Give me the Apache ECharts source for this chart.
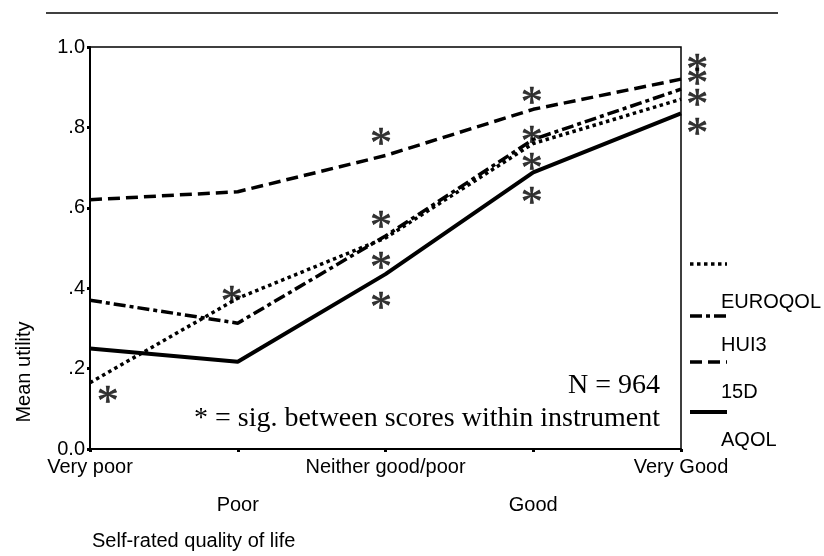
<!DOCTYPE html>
<html>
<head>
<meta charset="utf-8">
<script src="https://cdn.jsdelivr.net/npm/echarts@6/dist/echarts.min.js"></script>
<style>
html,body{margin:0;padding:0;background:#fff;}
#c{width:824px;height:556px;}
</style>
</head>
<body>
<div id="c"></div>
<script>
const categories = ['Very poor', 'Poor', 'Neither good/poor', 'Good', 'Very Good'];
const euroqol = [0.165, 0.375, 0.525, 0.76, 0.87];
const hui3 = [0.37, 0.313, 0.53, 0.77, 0.895];
const d15 = [0.62, 0.64, 0.73, 0.845, 0.92];
const aqol = [0.25, 0.217, 0.435, 0.688, 0.835];
const yTickLabels = ['0.0', '.2', '.4', '.6', '.8', '1.0'];
const sigX = [0.12, 0.96, 1.97, 1.97, 1.97, 1.97, 2.99, 2.99, 2.99, 2.99, 4.11, 4.11, 4.11, 4.11];
const sigY = [0.139, 0.387, 0.781, 0.574, 0.472, 0.371, 0.881, 0.785, 0.719, 0.632, 0.963, 0.930, 0.876, 0.806];
const legendNames = ['EUROQOL', 'HUI3', '15D', 'AQOL'];

const SANS = "'Liberation Sans', Arial, sans-serif";
const SERIF = "'Liberation Serif', 'Times New Roman', serif";

const toPts = arr => arr.map((v, i) => [i, v]);
const dashes = [[3.5, 3.5], [12, 4, 4, 4], [12, 6], 'solid'];
const widths = [3.5, 3.5, 3.5, 4];
const seriesArrays = [euroqol, hui3, d15, aqol];

const chart = echarts.init(document.getElementById('c'), null, {renderer: 'canvas'});

const lineSeries = seriesArrays.map((arr, k) => ({
  name: legendNames[k],
  type: 'line',
  data: toPts(arr),
  showSymbol: false,
  symbol: 'none',
  lineStyle: {color: '#000', width: widths[k], type: dashes[k]},
  z: 3,
  animation: false
}));

const sigSeries = {
  type: 'scatter',
  data: sigX.map((x, i) => [x, sigY[i]]),
  symbolSize: 0,
  clip: false,
  z: 5,
  animation: false,
  label: {
    show: true,
    position: 'inside',
    formatter: '*',
    color: '#000',
    fontFamily: SERIF,
    fontSize: 44,
    textBorderColor: '#000',
    textBorderWidth: 0.6,
    offset: [0, 10]
  }
};

const legendY = [264, 316, 362, 412];
const legendTextY = [302, 345, 392, 440];
const legendGraphics = [];
legendNames.forEach((n, k) => {
  legendGraphics.push({
    type: 'line',
    shape: {x1: 690, y1: legendY[k], x2: 727, y2: legendY[k]},
    style: {stroke: '#000', lineWidth: widths[k], lineDash: dashes[k] === 'solid' ? null : dashes[k]}
  });
  legendGraphics.push({
    type: 'text',
    style: {text: n, x: 721, y: legendTextY[k], font: '20px ' + SANS, fill: '#000', textAlign: 'left', textVerticalAlign: 'middle'}
  });
});

chart.setOption({
  animation: false,
  backgroundColor: '#fff',
  grid: {left: 90, right: 143, top: 47, bottom: 107, show: true, borderColor: '#000', borderWidth: 1.5, backgroundColor: 'transparent'},
  xAxis: {
    type: 'value', min: 0, max: 4, interval: 1,
    axisLine: {show: true, onZero: false, lineStyle: {color: '#000', width: 2}},
    axisTick: {show: true, length: 3, lineStyle: {color: '#000', width: 3}},
    splitLine: {show: false},
    axisLabel: {
      color: '#000', fontFamily: SANS, fontSize: 20, lineHeight: 38, margin: -1,
      formatter: v => (v % 2 === 1 ? '\n' : '') + categories[v]
    }
  },
  yAxis: {
    type: 'value', min: 0, max: 1, interval: 0.2,
    axisLine: {show: true, onZero: false, lineStyle: {color: '#000', width: 2}},
    axisTick: {show: true, length: 3, lineStyle: {color: '#000', width: 3}},
    splitLine: {show: false},
    axisLabel: {
      color: '#000', fontFamily: SANS, fontSize: 20, margin: 5,
      formatter: v => yTickLabels[Math.round(v * 5)]
    }
  },
  series: lineSeries.concat([sigSeries]),
  graphic: [
    {type: 'line', shape: {x1: 46, y1: 13, x2: 778, y2: 13}, style: {stroke: '#000', lineWidth: 1.5}},
    {type: 'text', x: 24, y: 372, rotation: Math.PI / 2,
      style: {text: 'Mean utility', x: 0, y: 0, font: '20px ' + SANS, fill: '#000', textAlign: 'center', textVerticalAlign: 'middle'}},
    {type: 'text', style: {text: 'Self-rated quality of life', x: 92, y: 541, font: '20px ' + SANS, fill: '#000', textAlign: 'left', textVerticalAlign: 'middle'}},
    {type: 'text', style: {text: 'N = 964', x: 660, y: 386, font: '28px ' + SERIF, fill: '#000', textAlign: 'right', textVerticalAlign: 'middle'}},
    {type: 'text', style: {text: '* = sig. between scores within instrument', x: 660, y: 419, font: '28px ' + SERIF, fill: '#000', textAlign: 'right', textVerticalAlign: 'middle'}}
  ].concat(legendGraphics)
});
</script>
</body>
</html>
